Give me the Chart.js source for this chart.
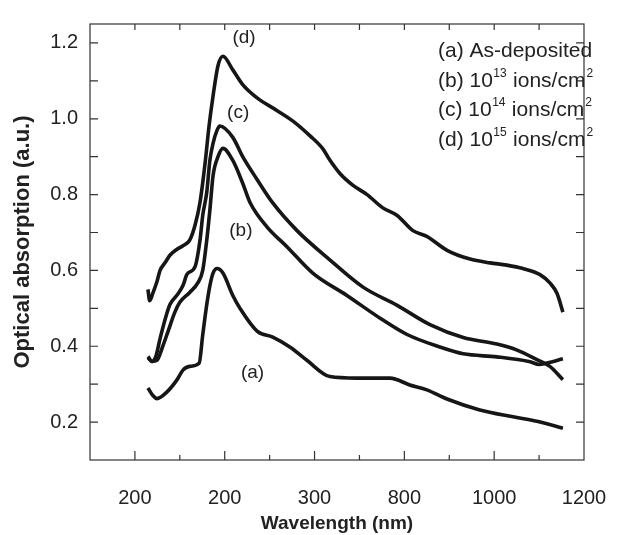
<!DOCTYPE html>
<html>
<head>
<meta charset="utf-8">
<script src="https://cdn.jsdelivr.net/npm/chart.js@4.4.1/dist/chart.umd.min.js"></script>
<style>
  html, body { margin: 0; padding: 0; background: #fff; }
  #wrap { width: 643px; height: 535px; position: relative; }
</style>
</head>
<body>
<div id="wrap"><canvas id="absChart"></canvas></div>
<script>
// tick positions and the labels printed under them (as in the figure)
const xTickValues = [200, 400, 600, 800, 1000, 1200];
const xTickLabels = ["200", "200", "300", "800", "1000", "1200"];
const yTickValues = [0.2, 0.4, 0.6, 0.8, 1.0, 1.2];

// (a) As-deposited
const waveA = [229, 240, 249, 271, 294, 307, 322, 343, 351, 360, 367, 374, 383, 396, 418, 434, 472, 507, 545, 583, 634, 694, 768, 812, 850, 895, 968, 1042, 1095, 1153];
const absA  = [0.29, 0.27, 0.262, 0.279, 0.312, 0.337, 0.347, 0.355, 0.43, 0.51, 0.56, 0.593, 0.605, 0.593, 0.534, 0.50, 0.44, 0.424, 0.398, 0.363, 0.32, 0.316, 0.316, 0.298, 0.285, 0.261, 0.232, 0.214, 0.202, 0.184];

// (b) 10^13 ions/cm2
const waveB = [229, 238, 249, 262, 274, 289, 300, 322, 340, 351, 360, 367, 374, 385, 396, 418, 440, 456, 494, 539, 596, 672, 746, 806, 879, 931, 1006, 1080, 1100, 1118, 1153];
const absB  = [0.373, 0.36, 0.363, 0.40, 0.44, 0.49, 0.516, 0.542, 0.567, 0.60, 0.68, 0.76, 0.85, 0.90, 0.922, 0.89, 0.83, 0.78, 0.715, 0.662, 0.593, 0.534, 0.474, 0.431, 0.398, 0.38, 0.372, 0.359, 0.352, 0.356, 0.367];

// (c) 10^14 ions/cm2
const waveC = [229, 238, 247, 256, 267, 278, 294, 307, 316, 334, 345, 351, 360, 367, 374, 383, 389, 418, 440, 472, 507, 561, 634, 708, 784, 857, 931, 1006, 1051, 1095, 1124, 1153];
const absC  = [0.37, 0.36, 0.375, 0.42, 0.47, 0.51, 0.535, 0.56, 0.59, 0.61, 0.68, 0.745, 0.806, 0.891, 0.935, 0.97, 0.981, 0.951, 0.90, 0.84, 0.778, 0.705, 0.628, 0.556, 0.508, 0.457, 0.423, 0.406, 0.39, 0.365, 0.347, 0.312];

// (d) 10^15 ions/cm2
const waveD = [229, 233, 240, 249, 256, 267, 278, 293, 307, 322, 334, 345, 356, 365, 374, 385, 396, 418, 440, 472, 516, 552, 590, 619, 634, 657, 685, 717, 752, 784, 819, 850, 895, 946, 991, 1028, 1064, 1102, 1124, 1140, 1153];
const absD  = [0.55, 0.52, 0.54, 0.57, 0.60, 0.62, 0.64, 0.655, 0.665, 0.68, 0.72, 0.78, 0.88, 0.98, 1.06, 1.14, 1.165, 1.129, 1.09, 1.055, 1.022, 0.994, 0.955, 0.92, 0.891, 0.855, 0.825, 0.80, 0.765, 0.745, 0.705, 0.69, 0.653, 0.63, 0.62, 0.614, 0.605, 0.589, 0.567, 0.539, 0.49];

const legendLines = [
  { pre: "(a) As-deposited" },
  { pre: "(b) 10", sup: "13", post: " ions/cm", sup2: "2" },
  { pre: "(c) 10", sup: "14", post: " ions/cm", sup2: "2" },
  { pre: "(d) 10", sup: "15", post: " ions/cm", sup2: "2" },
];

const toPoints = (xs, ys) => xs.map((x, i) => ({ x: x, y: ys[i] }));
const ink = "#161616";
const FONT = "'Liberation Sans', Arial, sans-serif";

const makeSet = (label, xs, ys) => ({
  label: label,
  data: toPoints(xs, ys),
  borderColor: ink,
  borderWidth: 3.6,
  pointRadius: 0,
  cubicInterpolationMode: "monotone",
  fill: false,
});

// frame, inward ticks, curve labels and the text legend
const decorations = {
  id: "decorations",
  afterDraw(chart) {
    const { ctx, chartArea: a, scales } = chart;
    const xs = scales.x, ys = scales.y;
    ctx.save();
    ctx.strokeStyle = "#333";
    ctx.lineWidth = 1.2;
    ctx.strokeRect(a.left, a.top, a.right - a.left, a.bottom - a.top);

    ctx.beginPath();
    for (let v = 200; v <= 1100; v += 100) {
      const px = xs.getPixelForValue(v);
      const major = xTickValues.includes(v);
      ctx.moveTo(px, a.bottom);
      ctx.lineTo(px, a.bottom - (major ? 9 : 5));
      ctx.moveTo(px, a.top);
      ctx.lineTo(px, a.top + 6);
    }
    for (let k = 2; k <= 12; k++) {
      const py = ys.getPixelForValue(k / 10);
      ctx.moveTo(a.left, py);
      ctx.lineTo(a.left + 8, py);
      ctx.moveTo(a.right, py);
      ctx.lineTo(a.right - 8, py);
    }
    ctx.stroke();

    // curve labels
    ctx.fillStyle = "#222";
    ctx.font = "19px " + FONT;
    ctx.textAlign = "center";
    ctx.textBaseline = "middle";
    ctx.fillText("(a)", xs.getPixelForValue(462), ys.getPixelForValue(0.33));
    ctx.fillText("(b)", xs.getPixelForValue(436), ys.getPixelForValue(0.705));
    ctx.fillText("(c)", xs.getPixelForValue(430), ys.getPixelForValue(1.015));
    ctx.fillText("(d)", xs.getPixelForValue(443), ys.getPixelForValue(1.215));

    // legend text with superscripts
    ctx.textAlign = "left";
    ctx.textBaseline = "alphabetic";
    const y0 = 57;
    legendLines.forEach((ln, i) => {
      const yy = y0 + i * 29.5;
      let x = 438;
      ctx.font = "21px " + FONT;
      ctx.fillText(ln.pre, x, yy);
      x += ctx.measureText(ln.pre).width;
      if (ln.sup) {
        ctx.font = "12px " + FONT;
        ctx.fillText(ln.sup, x + 0.5, yy - 10);
        x += ctx.measureText(ln.sup).width + 1;
        ctx.font = "21px " + FONT;
        ctx.fillText(ln.post, x, yy);
        x += ctx.measureText(ln.post).width;
        ctx.font = "12px " + FONT;
        ctx.fillText(ln.sup2, x + 1, yy - 10);
      }
    });
    ctx.restore();
  },
};

new Chart(document.getElementById("absChart").getContext("2d"), {
  type: "line",
  data: {
    datasets: [
      makeSet("(a) As-deposited", waveA, absA),
      makeSet("(b) 10^13 ions/cm2", waveB, absB),
      makeSet("(c) 10^14 ions/cm2", waveC, absC),
      makeSet("(d) 10^15 ions/cm2", waveD, absD),
    ],
  },
  options: {
    responsive: true,
    maintainAspectRatio: false,
    animation: false,
    layout: { padding: { top: 9, right: 59, left: 0, bottom: 0 } },
    plugins: {
      legend: { display: false },
      tooltip: { enabled: false },
    },
    scales: {
      x: {
        type: "linear",
        min: 100,
        max: 1200,
        afterBuildTicks: (s) => { s.ticks = xTickValues.map((v) => ({ value: v })); },
        afterFit: (s) => { s.height = 75; },
        grid: { display: false, drawTicks: false },
        border: { display: false },
        ticks: {
          padding: 26,
          color: "#222",
          font: { family: FONT, size: 20 },
          callback: (v) => xTickLabels[xTickValues.indexOf(v)],
          maxRotation: 0,
        },
        title: {
          display: true,
          text: "Wavelength (nm)",
          color: "#222",
          font: { family: FONT, size: 19, weight: "bold" },
          padding: { top: 0, bottom: 0 },
        },
      },
      y: {
        type: "linear",
        min: 0.1,
        max: 1.25,
        afterBuildTicks: (s) => { s.ticks = yTickValues.map((v) => ({ value: v })); },
        afterFit: (s) => { s.width = 90; },
        grid: { display: false, drawTicks: false },
        border: { display: false },
        ticks: {
          padding: 12,
          color: "#222",
          font: { family: FONT, size: 20 },
          callback: (v) => v.toFixed(1),
        },
        title: {
          display: true,
          text: "Optical absorption (a.u.)",
          color: "#222",
          font: { family: FONT, size: 22, weight: "bold" },
          padding: { top: 10, bottom: 0 },
        },
      },
    },
  },
  plugins: [decorations],
});
</script>
</body>
</html>
